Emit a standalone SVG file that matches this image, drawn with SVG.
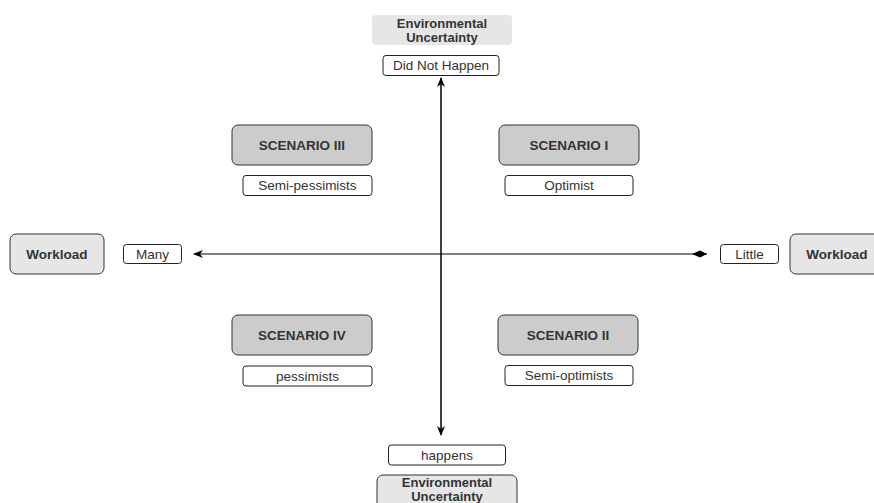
<svg xmlns="http://www.w3.org/2000/svg" width="874" height="503" viewBox="0 0 874 503">
<style>
text{font-family:"Liberation Sans",Arial,sans-serif;font-size:13.5px;fill:#333;text-anchor:middle;dominant-baseline:central}
.b{font-weight:bold}
.e{font-size:13px}
.lbl{fill:#fff;stroke:#222;stroke-width:1}
.sc{fill:#ccc;stroke:#333;stroke-width:1}
.gr{fill:#e6e6e6;stroke:#333;stroke-width:1}
.env{fill:#e6e6e6;stroke:none}
.ln{stroke:#000;stroke-width:1;fill:none}
</style>
<defs>
<marker id="arr" viewBox="0 0 10 10" refX="9" refY="5" markerWidth="10" markerHeight="10" markerUnits="userSpaceOnUse" orient="auto">
<path d="M0,1 L10,5 L0,9 L3,5 Z" fill="#000"/>
</marker>
<marker id="dia" viewBox="0 0 16 10" refX="15" refY="5" markerWidth="16" markerHeight="10" markerUnits="userSpaceOnUse" orient="auto">
<path d="M0,5 L8,1.5 L15,5 L8,8.5 Z" fill="#000"/>
</marker>
</defs>
<g id="connectors">
<line class="ln" x1="441" y1="434" x2="441" y2="78" marker-end="url(#arr)"/>
<line class="ln" x1="441" y1="78" x2="441" y2="435" marker-end="url(#arr)"/>
<line class="ln" x1="500" y1="254" x2="194" y2="254" marker-end="url(#arr)"/>
<line class="ln" x1="500" y1="254" x2="707" y2="254" marker-end="url(#dia)"/>
</g>
<g id="env-top"><rect class="env" x="372" y="15" width="140" height="30" rx="4"/><text class="b e" x="442" y="23">Environmental</text><text class="b e" x="442" y="37.5">Uncertainty</text></g>
<g id="did-not-happen"><rect class="lbl" x="383" y="55.5" width="116" height="20" rx="3"/><text x="441" y="65.5">Did Not Happen</text></g>
<g id="scenario3"><rect class="sc" x="232" y="125" width="140" height="40" rx="6"/><text class="b" x="302" y="145">SCENARIO III</text></g>
<g id="semi-pessimists"><rect class="lbl" x="243" y="175.5" width="129" height="20" rx="3"/><text x="307.5" y="185.5">Semi-pessimists</text></g>
<g id="scenario1"><rect class="sc" x="499" y="125" width="140" height="40" rx="6"/><text class="b" x="569" y="145">SCENARIO I</text></g>
<g id="optimist"><rect class="lbl" x="505" y="175.5" width="128" height="20" rx="3"/><text x="569" y="185.5">Optimist</text></g>
<g id="workload-left"><rect class="gr" x="10" y="234" width="94" height="40" rx="6"/><text class="b" x="57" y="254">Workload</text></g>
<g id="many"><rect class="lbl" x="123.5" y="244.5" width="58" height="19" rx="3"/><text x="152.5" y="254">Many</text></g>
<g id="little"><rect class="lbl" x="720.5" y="244.5" width="58" height="19" rx="3"/><text x="749.5" y="254">Little</text></g>
<g id="workload-right"><rect class="gr" x="790" y="234" width="94" height="40" rx="6"/><text class="b" x="837" y="254">Workload</text></g>
<g id="scenario4"><rect class="sc" x="232" y="315" width="140" height="40" rx="6"/><text class="b" x="302" y="335">SCENARIO IV</text></g>
<g id="pessimists"><rect class="lbl" x="243" y="366" width="129" height="20" rx="3"/><text x="307.5" y="376">pessimists</text></g>
<g id="scenario2"><rect class="sc" x="498" y="315" width="140" height="40" rx="6"/><text class="b" x="568" y="335">SCENARIO II</text></g>
<g id="semi-optimists"><rect class="lbl" x="505" y="365.5" width="128" height="20" rx="3"/><text x="569" y="375.5">Semi-optimists</text></g>
<g id="happens"><rect class="lbl" x="388.5" y="445" width="117" height="20" rx="3"/><text x="447" y="455">happens</text></g>
<g id="env-bottom"><rect class="gr" x="377" y="475" width="140" height="36" rx="6"/><text class="b e" x="447" y="482.5">Environmental</text><text class="b e" x="447" y="496.5">Uncertainty</text></g>
</svg>
